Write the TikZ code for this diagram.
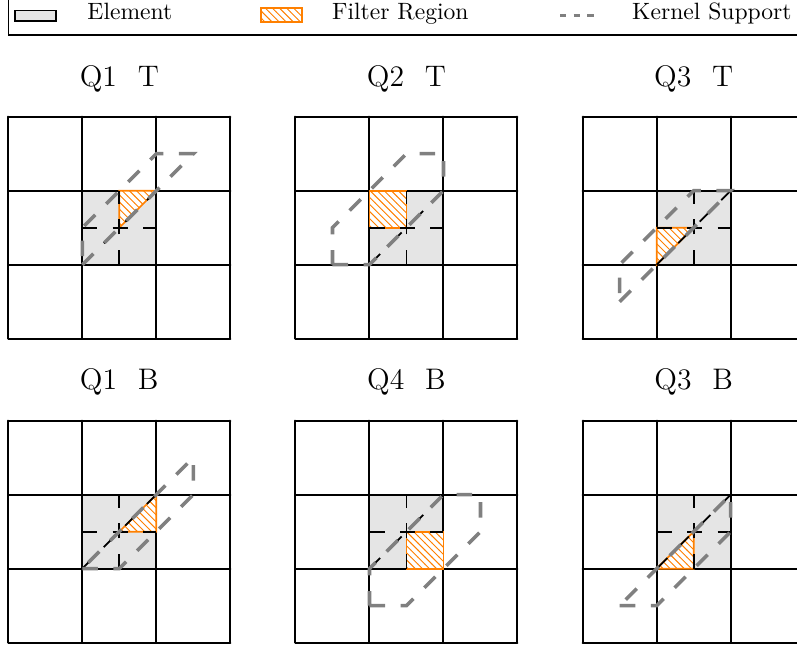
\documentclass[tikz,border=0pt]{standalone}
\usetikzlibrary{patterns}
\definecolor{elemgray}{gray}{0.9}
\definecolor{kgray}{gray}{0.5}
\definecolor{forange}{rgb}{1,0.5,0}
\tikzset{
  gridline/.style={line width=0.85pt, line cap=round},
  elemfill/.style={fill=elemgray},
  filterfill/.style={fill=white},
  filterhatch/.style={pattern=north west lines, pattern color=forange},
  filterline/.style={draw=forange, line width=0.7pt},
  subdiv/.style={line width=0.75pt, dash pattern=on 6.4pt off 6.5pt},
  kernel/.style={draw=kgray, line width=1.5pt, dash pattern=on 6.6pt off 6.6pt},
  kernellegend/.style={draw=kgray, line width=1.2pt, dash pattern=on 2.6pt off 3.2pt},
  paneltitle/.style={font=\fontsize{12.6}{15}\selectfont, anchor=base, inner sep=0pt},
  legendtext/.style={anchor=base west, inner sep=0pt},
}
\newcommand\drawpanel[6]{%
\begin{scope}[shift={(#2pt,#3pt)}, x=31.356pt, y=31.356pt]
  \fill[elemfill] (1,1) rectangle (2,2);
  \draw[gridline] (0,0) grid[step=1] (3,3);
  \fill[filterfill] #5 -- cycle;
  \fill[filterhatch] #5 -- cycle;
  \draw[filterline] #5 -- cycle;
  \draw[subdiv] (1,1.5) -- (2,1.5);
  \draw[subdiv] (1.5,1) -- (1.5,2);
  \draw[subdiv] (1,1) -- (2,2);
  \draw[kernel] #6 -- cycle;
  \node[paneltitle] (#1) at (1.5,3.415) {#4};
\end{scope}}
\begin{document}
\begin{tikzpicture}[x=0.42373pt, y=-0.42373pt]
\useasboundingbox (0,0) rectangle (797,649);
% legend
\draw[line width=0.5pt] (8.3,-5) rectangle (805,35);
\draw[fill=elemgray, line width=0.5pt] (15,10.7) rectangle (56,21);
\node[legendtext] (lel) at (87,19.5) {Element};
\fill[filterfill] (260.7,8) rectangle (302.3,22);
\fill[filterhatch] (260.7,8) rectangle (302.3,22);
\draw[filterline] (260.7,8) rectangle (302.3,22);
\node[legendtext] (lfr) at (331.7,19.5) {Filter Region};
\draw[kernellegend] (560,15.5) -- (596,15.5);
\node[legendtext] (lks) at (631.7,19.5) {Kernel Support};
% panels
\drawpanel{t1}{3.517}{-143.52}{Q1\hspace{0.7em}T}{(1.5,1.5) -- (1.5,2) -- (2,2)}{(1,1) -- (2.5,2.5) -- (2,2.5) -- (1,1.5)}
\drawpanel{t2}{125.21}{-143.52}{Q2\hspace{0.7em}T}{(1,1.5) -- (1.5,1.5) -- (1.5,2) -- (1,2)}{(0.5,1) -- (1,1) -- (2,2) -- (2,2.5) -- (1.5,2.5) -- (0.5,1.5)}
\drawpanel{t3}{246.91}{-143.52}{Q3\hspace{0.7em}T}{(1,1) -- (1,1.5) -- (1.5,1.5)}{(0.5,0.5) -- (2,2) -- (1.5,2) -- (0.5,1)}
\drawpanel{b1}{3.517}{-272.33}{Q1\hspace{0.7em}B}{(1.5,1.5) -- (2,1.5) -- (2,2)}{(1,1) -- (1.5,1) -- (2.5,2) -- (2.5,2.5)}
\drawpanel{b2}{125.21}{-272.33}{Q4\hspace{0.7em}B}{(1.5,1) -- (2,1) -- (2,1.5) -- (1.5,1.5)}{(1,0.5) -- (1.5,0.5) -- (2.5,1.5) -- (2.5,2) -- (2,2) -- (1,1)}
\drawpanel{b3}{246.91}{-272.33}{Q3\hspace{0.7em}B}{(1,1) -- (1.5,1) -- (1.5,1.5)}{(0.5,0.5) -- (1,0.5) -- (2,1.5) -- (2,2)}
\end{tikzpicture}
\end{document}
